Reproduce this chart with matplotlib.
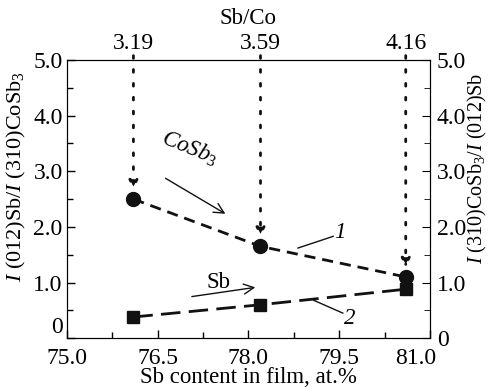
import matplotlib
matplotlib.use("Agg")
import matplotlib.pyplot as plt
import matplotlib.transforms as mtransforms
from matplotlib.ticker import FixedLocator

plt.rcParams['font.family'] = ['Liberation Serif', 'DejaVu Serif']
plt.rcParams['mathtext.fontset'] = 'custom'
plt.rcParams['mathtext.rm'] = 'Liberation Serif'
plt.rcParams['mathtext.it'] = 'Liberation Serif:italic'

# data
sb_content = [76.1, 78.2, 80.6]
ratio_cosb3 = [2.5, 1.65, 1.1]   # curve 1
ratio_sb = [0.38, 0.6, 0.88]     # curve 2
sb_co = ['3.19', '3.59', '4.16']
xticks = [75, 76.5, 78, 79.5, 81]
xlabs = ['75.0', '76.5', '78.0', '79.5', '81.0']
yticks = [0, 1, 2, 3, 4, 5]
ylabs = ['0', '1.0', '2.0', '3.0', '4.0', '5.0']

FS = 17

fig = plt.figure(figsize=(4.88, 3.9), dpi=100)
ax = fig.add_axes([0.137, 0.133, 0.744, 0.713])

ax.plot(sb_content, ratio_cosb3, color='#111111', lw=2, ls=(0, (4, 2.5)),
        marker='o', ms=10, zorder=3)
ax.plot(sb_content, ratio_sb, color='#111111', lw=2, ls=(0, (7, 3)),
        marker='s', ms=9, zorder=3)

ax.set_xlim(75, 81)
ax.set_ylim(0, 5)
ax.xaxis.set_major_locator(FixedLocator(xticks))
ax.xaxis.set_minor_locator(FixedLocator([75.75, 77.25, 78.75, 80.25]))
ax.yaxis.set_major_locator(FixedLocator(yticks))
ax.yaxis.set_minor_locator(FixedLocator([0.5, 1.5, 2.5, 3.5, 4.5]))
ax.set_xticklabels(xlabs)
ax.set_yticklabels(ylabs)
ax.tick_params(which='both', direction='in', labelsize=FS, top=False, right=True)
ax.tick_params(which='major', length=6, width=1)
ax.tick_params(which='minor', length=4, width=1)
ax.tick_params(axis='x', pad=7)
ax.tick_params(axis='y', pad=3)

ax2 = ax.twinx()
ax2.set_ylim(0, 5)
ax2.yaxis.set_major_locator(FixedLocator(yticks))
ax2.yaxis.set_minor_locator(FixedLocator([0.5, 1.5, 2.5, 3.5, 4.5]))
ax2.set_yticklabels(ylabs)
ax2.tick_params(which='both', direction='in', labelsize=FS, pad=5)
ax2.tick_params(which='major', length=6)
ax2.tick_params(which='minor', length=4)

# nudge the corner labels like in the original
ax.get_yticklabels()[0].set_va('bottom')
last = ax.get_xticklabels()[-1]
last.set_transform(last.get_transform() +
                   mtransforms.ScaledTranslation(-10 / 72, 0, fig.dpi_scale_trans))

ax.set_xlabel('Sb content in film, at.%', fontsize=16.5, labelpad=-1)
ax.set_ylabel(r'$I$ (012)Sb/$I$ (310)CoSb$_3$', fontsize=16, labelpad=0)
ax.yaxis.set_label_coords(-0.108, 0.58)
ax2.set_ylabel(r'$I$ (310)CoSb$_3$/$I$ (012)Sb', fontsize=14.5, labelpad=0)
ax2.yaxis.set_label_coords(1.098, 0.61)

# top Sb/Co labels with dotted arrows
for xv, yv, lab in zip(sb_content, ratio_cosb3, sb_co):
    ax.text(xv, 5.1, lab, ha='center', va='bottom', fontsize=FS, clip_on=False)
    ax.annotate('', xy=(xv, yv + 0.17), xytext=(xv, 5.08),
                arrowprops=dict(arrowstyle='-|>', ls=(0, (1, 4)), lw=2,
                                color='#111111', mutation_scale=13,
                                shrinkA=0, shrinkB=0),
                annotation_clip=False)
ax.text(78.0, 5.55, 'Sb/Co', ha='center', va='bottom', fontsize=16.5, clip_on=False)

# curve annotations
ax.annotate('', xy=(77.66, 2.21), xytext=(76.59, 2.90),
            arrowprops=dict(arrowstyle='->', lw=1, color='#111111', mutation_scale=18))
ax.text(77.03, 3.42, r'$CoSb_3$', fontsize=16.5, rotation=-22, ha='center', va='center')
ax.plot([78.82, 79.40], [1.62, 1.83], color='#111111', lw=1)
ax.text(79.52, 1.9, '1', fontsize=16.5, style='italic', ha='center', va='center')
ax.annotate('', xy=(78.16, 0.92), xytext=(77.02, 0.74),
            arrowprops=dict(arrowstyle='->', lw=1, color='#111111', mutation_scale=18))
ax.text(77.5, 1.0, 'Sb', fontsize=16.5, ha='center', va='center')
ax.plot([79.08, 79.56], [0.68, 0.45], color='#111111', lw=1)
ax.text(79.68, 0.35, '2', fontsize=16.5, style='italic', ha='center', va='center')

fig.savefig('out.png', dpi=100)
